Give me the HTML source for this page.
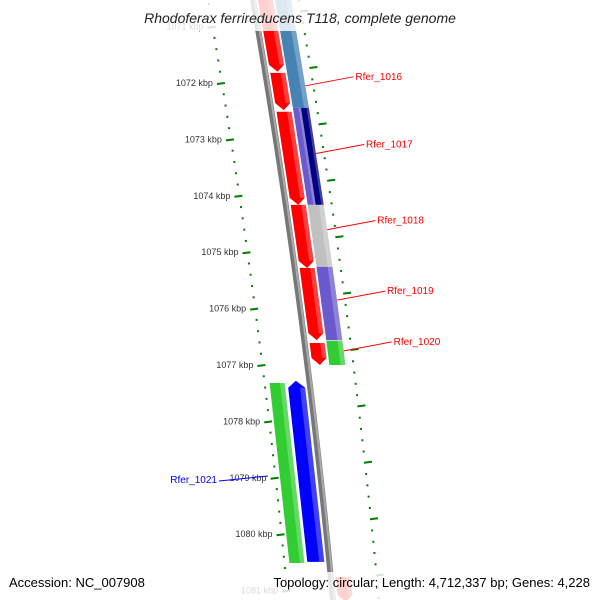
<!DOCTYPE html>
<html><head><meta charset="utf-8"><style>
html,body{margin:0;padding:0;background:#fff}
svg{display:block;font-family:"Liberation Sans",sans-serif}
</style></head><body>
<svg id="chart" width="600" height="600" viewBox="0 0 600 600">
<g id="ticks"></g>
<g id="backbone"></g>
<g id="features"></g>
<g id="labels"></g>
<rect x="0" y="0" width="600" height="31" fill="#fff" opacity="0.82"/>
<text x="300" y="23" text-anchor="middle" font-size="14" font-style="italic" fill="#222">Rhodoferax ferrireducens T118, complete genome</text>
<rect x="0" y="572" width="600" height="28" fill="#fff" opacity="0.82"/>
<text x="9" y="587" font-size="13" fill="#000">Accession: NC_007908</text>
<text x="590" y="587" text-anchor="end" font-size="13" fill="#000">Topology: circular; Length: 4,712,337 bp; Genes: 4,228</text>
</svg>
<script>
// data
const tickKbp = [1071,1072,1073,1074,1075,1076,1077,1078,1079,1080,1081];
const fwdStarts = [1070.35,1071.82,1072.51,1074.16,1075.28,1076.61,1080.76];
const fwdEnds   = [1071.80,1072.48,1074.16,1075.28,1076.56,1077.00,1081.20];
const fwdColors = ["#ff0000","#ff0000","#ff0000","#ff0000","#ff0000","#ff0000","#ff0000"];
const trk2Starts = [1070.35,1072.44,1072.44,1074.16,1075.26,1076.57];
const trk2Ends   = [1072.44,1074.16,1074.16,1075.26,1076.56,1077.00];
const trk2Colors = ["#4682b4","#6a5acd","#000080","#c0c0c0","#6a5acd","#32cd32"];
const trk2Half   = [0,1,2,0,0,0];
const revStarts = [1077.28];
const revEnds   = [1080.49];
const revColors = ["#0000ff"];
const rev2Starts = [1077.32];
const rev2Ends   = [1080.51];
const rev2Colors = ["#32cd32"];
const labelNames = ["Rfer_1016","Rfer_1017","Rfer_1018","Rfer_1019","Rfer_1020"];
const labelKbp   = [1072.05,1073.25,1074.6,1075.85,1076.75];

const NS="http://www.w3.org/2000/svg";
function yOf(k){return 83+(k-1072)*56.4;}
function xb(y){return 253+0.1734*y-6.69e-5*y*y;}
function el(tag,attrs,parent){const e=document.createElementNS(NS,tag);for(const a in attrs)e.setAttribute(a,attrs[a]);parent.appendChild(e);return e;}
const gT=document.getElementById('ticks'),gB=document.getElementById('backbone'),gF=document.getElementById('features'),gL=document.getElementById('labels');

// ticks
for(let k=1070.6;k<=1081.41;k+=0.2){
  const kk=Math.round(k*10)/10, major=Math.abs(kk-Math.round(kk))<0.01;
  let y=yOf(kk);
  let x=xb(y);
  const l=el('line',{x1:x+(major?-50:-46),y1:y+(major?1:0),x2:x+(major?-42:-44),y2:y,stroke:'#008000','stroke-width':2},gT);
  
  
  let y2=y-15, x2=xb(y2);
  const r=el('line',{x1:x2+(major?45:45),y1:y2,x2:x2+(major?53:47),y2:y2-(major?1:0),stroke:'#008000','stroke-width':2},gT);
  
  
}
tickKbp.forEach(k=>{
  const y=yOf(k);
  const t=el('text',{x:xb(y)-54,y:y+3,'text-anchor':'end','font-size':9,fill:'#333'},gT);
  t.textContent=k+' kbp';
  
  
});

// backbone
let pts=[];for(let y=-5;y<=605;y+=10)pts.push(xb(y)+','+y);
const bb1=el('polyline',{points:pts.join(' '),fill:'none',stroke:'#777','stroke-width':6},gB);


const bb2=el('polyline',{points:pts.map(p=>{const [a,b]=p.split(',');return (+a+1.5)+','+b}).join(' '),fill:'none',stroke:'#aaa','stroke-width':2},gB);



function block(k1,k2,d1,d2,color,dir,name){
  const y1=yOf(k1),y2=yOf(k2),m=(d1+d2)/2,tip=7;
  let p;
  if(dir>0){p=[[xb(y1)+d1,y1],[xb(y1)+d2,y1],[xb(y2-tip)+d2,y2-tip],[xb(y2)+m,y2],[xb(y2-tip)+d1,y2-tip]];}
  else if(dir<0){p=[[xb(y1+tip)+d1,y1+tip],[xb(y1)+m,y1],[xb(y1+tip)+d2,y1+tip],[xb(y2)+d2,y2],[xb(y2)+d1,y2]];}
  else{p=[[xb(y1)+d1,y1],[xb(y1)+d2,y1],[xb(y2)+d2,y2],[xb(y2)+d1,y2]];}
  const e=el('polygon',{points:p.map(q=>q.join(',')).join(' '),fill:color},gF);
  
  
  const w=d2-d1, sy1=y1+(dir<0?tip:0), sy2=y2-(dir>0?tip:0);
  const s=el('polygon',{points:[[xb(sy1)+d2-w*0.3,sy1],[xb(sy1)+d2,sy1],[xb(sy2)+d2,sy2],[xb(sy2)+d2-w*0.3,sy2]].map(q=>q.join(',')).join(' '),fill:'#fff',opacity:0.25},gF);
  
  
}
fwdStarts.forEach((s,i)=>block(s,fwdEnds[i],5,20,fwdColors[i],1,'forward-cds'));
trk2Starts.forEach((s,i)=>{
  const h=trk2Half[i];
  const d1=h===2?30:22,d2=h===1?30:38;
  block(s,trk2Ends[i],d1,d2,trk2Colors[i],0,'blast-hit');
});
revStarts.forEach((s,i)=>block(s,revEnds[i],-22,-5,revColors[i],-1,'reverse-cds'));
rev2Starts.forEach((s,i)=>block(s,rev2Ends[i],-40,-25,rev2Colors[i],0,'reverse-blast-hit'));

// labels
labelNames.forEach((n,i)=>{
  const y=yOf(labelKbp[i]), x=xb(y)+38;
  const l=el('line',{x1:x,y1:y,x2:x+48,y2:y-9,stroke:'#f00','stroke-width':1},gL);
  
  
  const t=el('text',{x:x+50,y:y-6,'font-size':10,fill:'#f00'},gL);
  t.textContent=n;
  
  
});
(function(){
  const l=el('line',{x1:219,y1:481,x2:268,y2:476,stroke:'#00f','stroke-width':1},gL);
  
  
  const t=el('text',{x:217,y:483,'text-anchor':'end','font-size':10,fill:'#00f'},gL);
  t.textContent='Rfer_1021';
  
  
})();
</script>
</body></html>
